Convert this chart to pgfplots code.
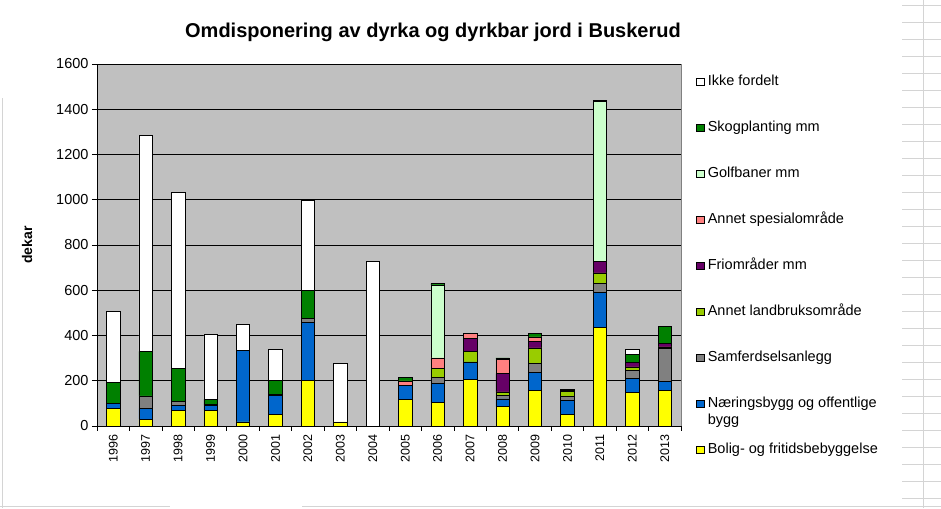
\documentclass[border=0pt]{standalone}
\usepackage{fontspec}
\setmainfont{Liberation Sans}
\usepackage{pgfplots}
\usepackage{pgfplotstable}
\pgfplotsset{compat=1.18}

\definecolor{cbolig}{HTML}{FFFF00}
\definecolor{cnaer}{HTML}{0066CC}
\definecolor{csamf}{HTML}{808080}
\definecolor{clandb}{HTML}{99CC00}
\definecolor{cfri}{HTML}{660066}
\definecolor{cspes}{HTML}{FF8080}
\definecolor{cgolf}{HTML}{CCFFCC}
\definecolor{cskog}{HTML}{008000}
\definecolor{plotbg}{HTML}{C0C0C0}
\definecolor{sheet}{HTML}{D4D4D4}

% dekar per kategori (segmenter, nederst og opp)
\pgfplotstableread{
x bolig naer samf landb fri spes golf skog ikke
0  78  22   0   0   0  0   0  94 313
1  29  49  55   0   0  0   0 197 954
2  69  22  19   0   0  0   0 145 778
3  69  22   0   0   6  0   0  21 287
4  18 316   0   0   0  0   0   0 115
5  52  84   0   0   5  0   0  61 137
6 202 256  19   0   0  0   0 124 396
7  18   0   0   0   0  0   0   0 259
8   0   0   0   0   0  0   0   0 729
9 117  62   0   0   0 20   0  16   0
10 103 84  27  41   0 46 323   5   0
11 205 78   0  46  58 22   0   0   0
12  86 34  16  15  81 63   0   6   0
13 156 80  40  69  30 19   0  15   0
14  50 64  17  21   5  0   0   4   0
15 435 155 40  47  49  0 709   5   0
16 148 62  36  15  19  0   0  37  21
17 156 40 146   8  15  0   0  75   0
}\data

\pgfplotsset{
  sq/.style={fill=#1, draw=black, line width=0.6pt,
    legend image code/.code={\draw[##1] (0pt,-3.5pt) rectangle (8pt,3.5pt);}},
}

\begin{document}
\begin{tikzpicture}
\path[use as bounding box] (0pt,0pt) rectangle (941pt,508pt);
% spreadsheet lines around the chart
\draw[sheet, line width=0.8pt] (923pt,0pt) -- (923pt,508pt);
\foreach \yy in {503,486,469,452,435,418,401,384,367,350,333,316,299,282,265,248,231,214,197,180,163,146,129,112,95,78,61,44,27,10}
  \draw[sheet, line width=0.8pt] (902pt,\yy pt) -- (941pt,\yy pt);
\draw[sheet, line width=0.8pt] (2pt,0pt) -- (2pt,410pt);
\draw[sheet, line width=0.8pt] (0pt,2pt) -- (170pt,2pt);
\draw[sheet, line width=0.8pt] (302pt,2pt) -- (941pt,2pt);

\node[font=\bfseries\fontsize{20}{24}\selectfont] at (433pt,476pt)
  {Omdisponering av dyrka og dyrkbar jord i Buskerud};

\begin{axis}[
  at={(97pt,82pt)}, anchor=south west,
  width=584pt, height=362pt, scale only axis,
  ybar stacked, bar width=13.5pt,
  xmin=-0.5, xmax=17.5, ymin=0, ymax=1600,
  ytick={0,200,...,1600},
  xtick={0,...,17},
  xticklabels={1996,1997,1998,1999,2000,2001,2002,2003,2004,2005,2006,2007,2008,2009,2010,2011,2012,2013},
  minor xtick={-0.5,0.5,...,17.5},
  major x tick style={draw=none},
  tick align=outside,
  major tick length=5pt, minor tick length=5pt,
  tick style={black, line width=0.6pt},
  axis x line*=bottom, axis y line*=left,
  axis line style={black, line width=0.6pt},
  ymajorgrids, grid style={black, line width=0.6pt},
  axis background/.style={fill=plotbg, draw=gray},
  x tick label style={rotate=90, anchor=east, font=\fontsize{12.5}{14}\selectfont},
  y tick label style={font=\fontsize{14.5}{16}\selectfont},
  /pgf/number format/assume math mode=true,
  /pgf/number format/1000 sep={},
  ylabel={\bfseries dekar},
  every axis y label/.style={at={(rel axis cs:0,0.5)}, xshift=-70pt, rotate=90,
    anchor=center, font=\fontsize{14}{16}\selectfont},
  reverse legend,
  legend cell align=left,
  legend style={at={(1,1)}, anchor=north west, xshift=12pt, yshift=-8pt,
    draw=none, fill=none, row sep=31pt,
    font=\fontsize{14.5}{17}\selectfont,
    nodes={inner ysep=1pt, inner xsep=3pt, text height=10pt, text depth=3pt}},
]
\addplot[sq=cbolig] table[x=x, y=bolig] {\data};
\addplot[sq=cnaer] table[x=x, y=naer] {\data};
\addplot[sq=csamf] table[x=x, y=samf] {\data};
\addplot[sq=clandb] table[x=x, y=landb] {\data};
\addplot[sq=cfri] table[x=x, y=fri] {\data};
\addplot[sq=cspes] table[x=x, y=spes] {\data};
\addplot[sq=cgolf] table[x=x, y=golf] {\data};
\addplot[sq=cskog] table[x=x, y=skog] {\data};
\addplot[sq=white] table[x=x, y=ikke] {\data};
\legend{Bolig- og fritidsbebyggelse,
  {\smash{\begin{tabular}[t]{@{}l@{}}Næringsbygg og offentlige\\bygg\end{tabular}}},
  Samferdselsanlegg, Annet landbruksområde, Friområder mm,
  Annet spesialområde, Golfbaner mm, Skogplanting mm, Ikke fordelt}
\end{axis}
\end{tikzpicture}
\end{document}
